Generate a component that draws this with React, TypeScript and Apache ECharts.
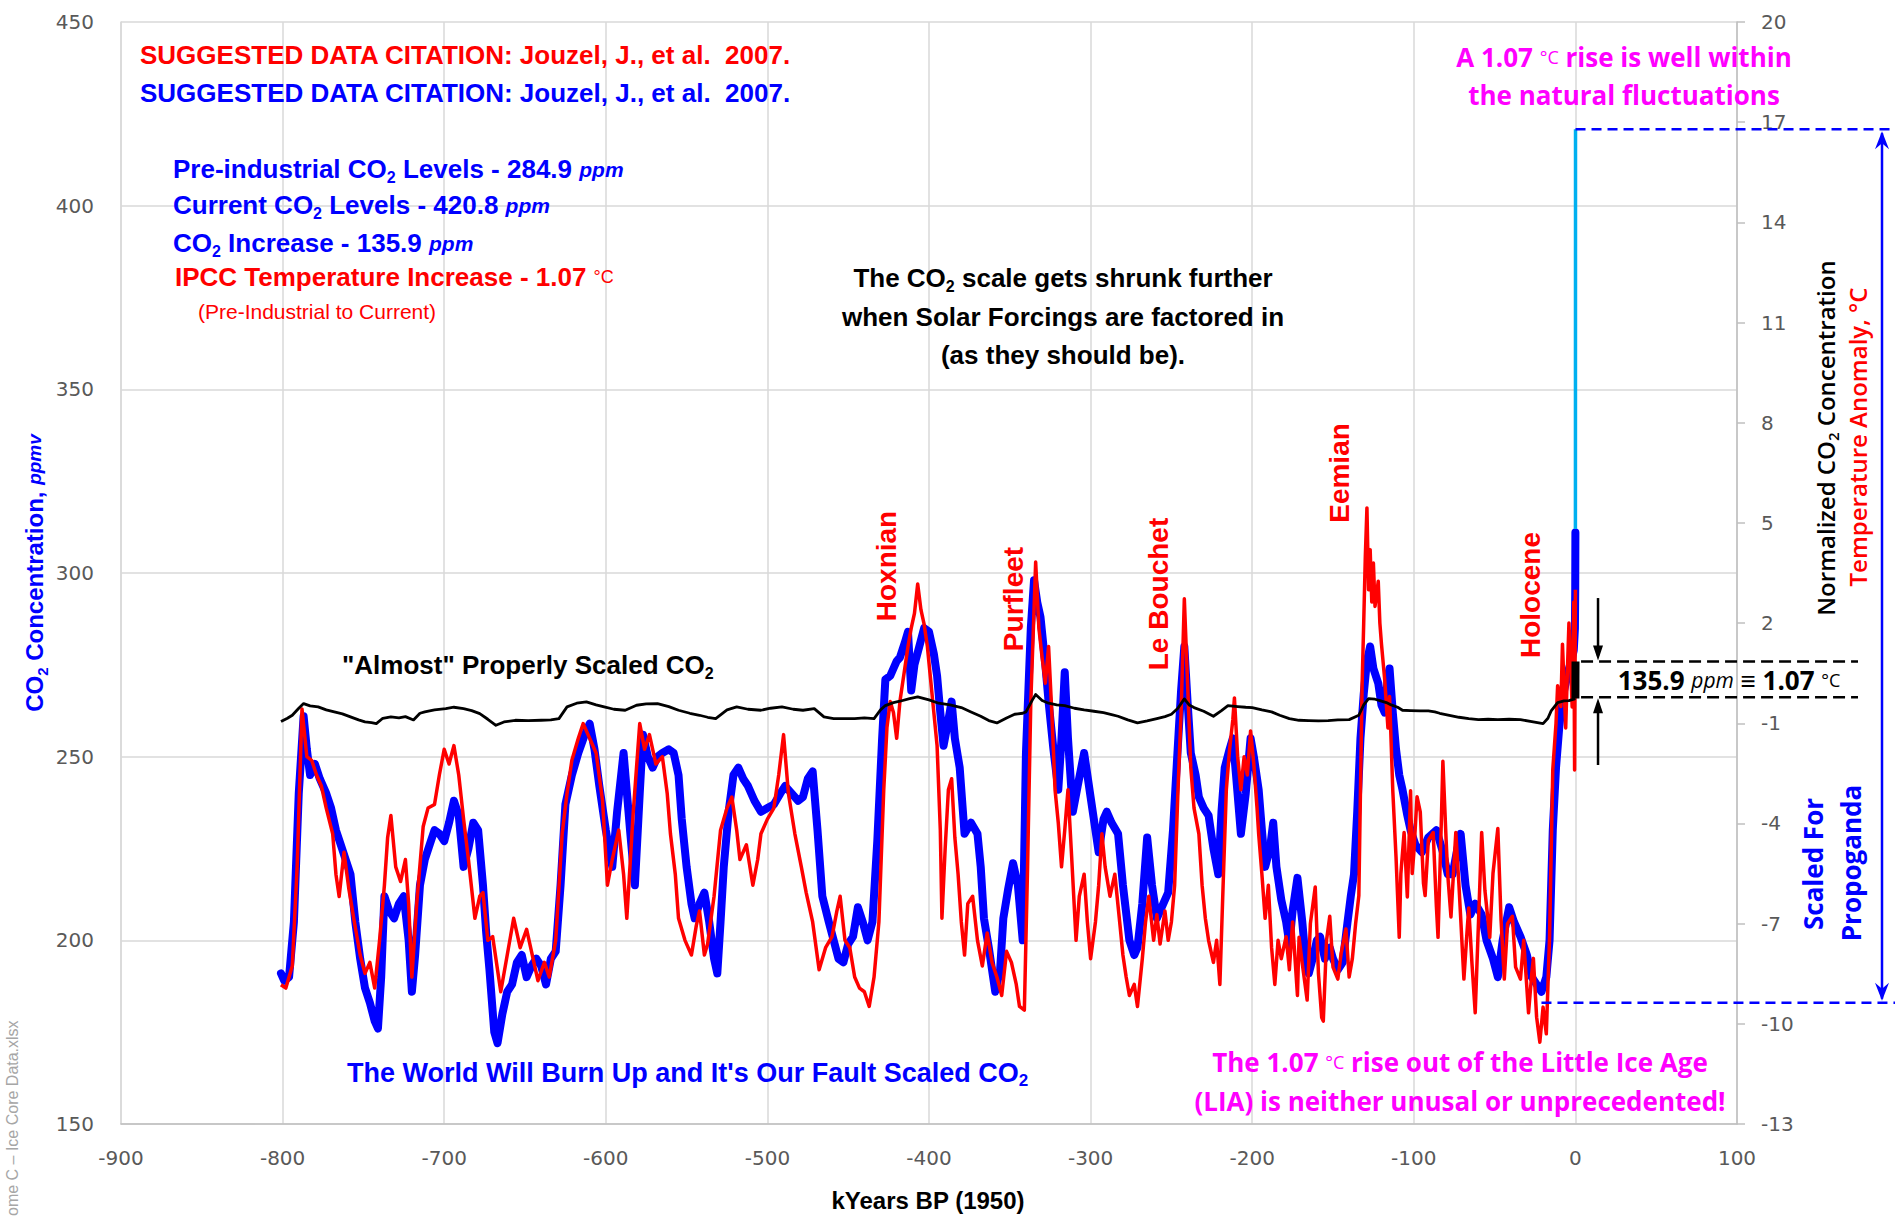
import React, { useEffect, useRef } from 'react';
import * as echarts from 'echarts';

// ---- Data (kyr BP relative to 1950, values) ----
const co2Data: [number, number][] = [
[-801,191],[-799,189],[-796,190],[-793,205],[-790,240],[-787,261],[-785,252],[-783,245],[-780,248],[-777,244],[-773,240],[-770,236],[-767,230],[-764,226],[-761,222],[-758,218],[-755,205],[-752,195],[-749,187],[-746,183],[-743,178],[-741,176],[-739,190],[-737,212],[-734,208],[-731,206],[-728,210],[-725,212],[-722,200],[-720,186],[-718,196],[-715,215],[-712,222],[-709,226],[-706,230],[-703,229],[-700,227],[-697,232],[-694,238],[-691,234],[-688,220],[-685,225],[-682,232],[-679,230],[-676,215],[-674,202],[-672,192],[-669,175],[-667,172],[-664,180],[-661,186],[-658,188],[-655,194],[-652,196],[-649,190],[-646,193],[-643,195],[-640,193],[-637,188],[-634,195],[-631,197],[-628,215],[-625,237],[-621,245],[-617,251],[-613,256],[-610,259],[-607,252],[-604,242],[-600,230],[-596,220],[-593,235],[-589,251],[-585,230],[-582,215],[-579,240],[-577,256],[-574,250],[-571,247],[-568,250],[-565,251],[-561,252],[-558,251],[-555,245],[-553,233],[-550,220],[-547,210],[-545,206],[-542,210],[-539,213],[-536,205],[-533,195],[-531,191],[-529,205],[-527,220],[-524,235],[-521,245],[-518,247],[-515,244],[-512,242],[-508,238],[-504,235],[-500,236],[-496,237],[-492,240],[-489,242],[-485,240],[-481,238],[-478,239],[-475,244],[-472,246],[-469,230],[-466,212],[-462,205],[-459,200],[-456,195],[-453,194],[-450,199],[-447,201],[-444,209],[-441,205],[-438,200],[-435,205],[-432,227],[-429,255],[-427,271],[-424,272],[-422,274],[-420,276],[-418,277],[-415,281],[-413,284],[-411,268],[-409,275],[-406,280],[-403,285],[-400,284],[-397,278],[-395,272],[-393,262],[-391,253],[-388,260],[-386,265],[-384,255],[-381,247],[-378,229],[-374,232],[-370,229],[-368,220],[-366,206],[-363,198],[-359,186],[-356,192],[-354,206],[-351,214],[-348,221],[-345,215],[-342,200],[-340,251],[-337,285],[-335,298],[-333,292],[-331,288],[-328,275],[-326,265],[-323,252],[-320,241],[-318,255],[-316,273],[-314,255],[-311,235],[-308,242],[-304,251],[-302,245],[-300,239],[-297,230],[-295,224],[-292,233],[-290,235],[-287,232],[-283,229],[-280,215],[-276,200],[-273,196],[-271,198],[-268,210],[-265,228],[-262,215],[-259,206],[-255,210],[-252,213],[-249,230],[-246,253],[-244,268],[-242,280],[-240,265],[-238,251],[-235,245],[-233,239],[-230,236],[-227,234],[-224,225],[-221,218],[-219,235],[-217,247],[-214,252],[-212,255],[-210,245],[-207,229],[-204,240],[-201,255],[-199,250],[-196,241],[-194,230],[-192,220],[-189,225],[-187,232],[-185,220],[-182,211],[-179,205],[-177,199],[-175,208],[-172,217],[-169,205],[-167,195],[-165,191],[-162,196],[-160,200],[-158,201],[-155,195],[-152,198],[-150,195],[-147,192],[-144,194],[-141,205],[-139,212],[-137,218],[-135,235],[-133,255],[-131,267],[-129,276],[-127,280],[-125,274],[-122,270],[-120,264],[-118,262],[-116,272],[-115,274],[-113,262],[-111,252],[-109,245],[-107,241],[-104,234],[-102,230],[-99,226],[-95,224],[-91,228],[-86,230],[-82,224],[-79,218],[-76,218],[-73,225],[-71,229],[-68,215],[-65,207],[-62,210],[-58,207],[-55,200],[-51,195],[-48,190],[-45,200],[-41,209],[-38,205],[-34,201],[-30,196],[-27,190],[-24,188],[-21,186],[-18,190],[-16,200],[-14,230],[-12,247],[-10,258],[-8,266],[-6,270],[-4,274],[-2,277],[-1,279],[-0.3,284.9],[-0.1,296],[0,311]
];

const modernCo2Data: [number, number][] = [
[0.001,312],[0.008,315],[0.02,325],[0.03,338],[0.04,354],[0.05,369],[0.06,389],[0.07,414],[0.073,420.8]
];

const tempData: [number, number][] = [
[-801,-8.83],[-798,-8.93],[-794,-8.27],[-791,-5.3],[-788,-0.57],[-785,-2.0],[-782,-2.11],[-779,-2.55],[-776,-2.88],[-773,-3.54],[-769,-4.31],[-767,-5.52],[-765,-6.19],[-762,-4.86],[-759,-5.96],[-756,-6.84],[-752,-7.94],[-749,-8.49],[-746,-8.16],[-743,-8.93],[-740,-7.5],[-737,-5.85],[-735,-4.42],[-733,-3.76],[-730,-5.3],[-727,-5.74],[-724,-5.08],[-722,-6.4],[-720,-8.6],[-717,-6.4],[-713,-4.09],[-710,-3.54],[-706,-3.43],[-703,-2.55],[-700,-1.78],[-697,-2.22],[-694,-1.67],[-691,-2.55],[-688,-3.87],[-685,-5.08],[-681,-6.84],[-678,-6.18],[-676,-6.07],[-673,-7.5],[-670,-7.39],[-667,-8.38],[-665,-9.04],[-661,-7.94],[-657,-6.84],[-653,-7.72],[-649,-7.17],[-645,-8.05],[-642,-8.71],[-638,-8.16],[-635,-8.6],[-631,-7.5],[-627,-4.31],[-624,-3.1],[-621,-2.11],[-617,-1.45],[-614,-1.01],[-610,-1.45],[-606,-1.89],[-602,-3.32],[-599,-5.85],[-596,-5.08],[-592,-4.2],[-589,-5.52],[-587,-6.84],[-583,-3.65],[-579,-1.01],[-576,-1.78],[-573,-1.34],[-569,-2.22],[-565,-2.0],[-562,-3.1],[-560,-4.31],[-557,-5.52],[-555,-6.84],[-551,-7.5],[-547,-7.94],[-544,-7.06],[-542,-6.62],[-539,-7.94],[-537,-7.61],[-533,-6.18],[-529,-4.2],[-525,-3.54],[-522,-3.21],[-519,-4.2],[-517,-5.08],[-513,-4.64],[-509,-5.85],[-506,-5.08],[-504,-4.31],[-500,-3.87],[-496,-3.54],[-493,-2.55],[-490,-1.34],[-487,-3.1],[-483,-4.31],[-479,-5.3],[-476,-6.07],[-472,-6.95],[-468,-8.38],[-464,-7.72],[-460,-7.39],[-457,-6.62],[-455,-6.18],[-452,-7.5],[-449,-7.72],[-446,-8.6],[-443,-8.93],[-440,-9.04],[-437,-9.48],[-434,-8.6],[-431,-6.95],[-428,-2.99],[-426,-1.12],[-424,-0.35],[-422,-0.68],[-420,-1.45],[-418,-0.35],[-415,0.64],[-413,1.3],[-411,1.85],[-409,2.29],[-407,3.17],[-405,2.4],[-403,1.96],[-401,1.3],[-399,0.31],[-397,-0.68],[-395,-1.67],[-393,-4.2],[-392,-6.84],[-390,-4.75],[-388,-2.99],[-386,-2.66],[-384,-4.42],[-382,-5.52],[-380,-6.95],[-378,-7.94],[-376,-6.4],[-373,-6.18],[-370,-7.5],[-367,-8.27],[-364,-7.28],[-361,-8.16],[-358,-8.6],[-355,-9.15],[-352,-7.83],[-349,-8.16],[-346,-8.82],[-344,-9.48],[-341,-9.59],[-339,-5.3],[-337,-0.35],[-335,2.4],[-334,3.83],[-332,1.85],[-330,0.97],[-328,0.2],[-326,1.3],[-324,-0.68],[-322,-2.99],[-320,-3.98],[-318,-5.3],[-316,-4.2],[-314,-2.99],[-312,-4.75],[-309,-7.5],[-307,-6.18],[-304,-5.52],[-302,-6.95],[-300,-8.05],[-297,-6.95],[-295,-5.85],[-293,-4.31],[-291,-5.3],[-288,-6.18],[-285,-5.52],[-282,-6.95],[-280,-7.94],[-278,-8.6],[-276,-9.15],[-273,-8.82],[-271,-9.48],[-268,-8.05],[-266,-6.95],[-264,-6.18],[-261,-7.5],[-259,-6.73],[-257,-7.61],[-254,-6.62],[-252,-7.5],[-250,-6.95],[-248,-5.85],[-246,-3.1],[-244,-0.68],[-242,2.73],[-240,0.2],[-238,-2.33],[-236,-3.54],[-233,-4.31],[-231,-5.85],[-229,-6.84],[-227,-7.5],[-224,-8.16],[-222,-7.5],[-220,-8.82],[-218,-5.85],[-216,-2.99],[-214,-1.78],[-212,-0.9],[-211,-0.24],[-209,-2.0],[-207,-2.99],[-205,-2.0],[-203,-2.55],[-201,-1.23],[-199,-2.22],[-197,-3.54],[-196,-4.31],[-194,-5.52],[-192,-6.84],[-190,-5.85],[-188,-7.72],[-186,-8.82],[-184,-7.5],[-182,-8.05],[-179,-7.39],[-177,-8.38],[-175,-6.95],[-172,-9.15],[-171,-7.41],[-169,-8.2],[-166,-9.29],[-164,-7.0],[-161,-5.9],[-159,-8.5],[-157,-9.81],[-156,-9.92],[-154,-7.5],[-152,-6.78],[-150,-8.3],[-147,-8.66],[-145,-7.9],[-142,-7.16],[-140,-8.6],[-138,-8.04],[-136,-7.0],[-134,-6.16],[-133,-3.0],[-132,0.12],[-131,2.0],[-130,4.0],[-129,5.45],[-128,3.0],[-127,4.2],[-126,2.63],[-125,3.8],[-124,2.5],[-122,3.25],[-121,2.0],[-120,1.37],[-118,0.3],[-116,-1.14],[-115,-0.2],[-113,-3.02],[-111,-5.0],[-109,-7.41],[-108,-5.5],[-106,-4.27],[-104,-6.2],[-102,-3.02],[-101,-5.5],[-100,-4.9],[-98,-3.2],[-96,-3.65],[-94,-5.8],[-93,-6.16],[-91,-4.5],[-88,-4.27],[-86,-6.5],[-85,-7.41],[-83,-4.0],[-82,-2.14],[-80,-4.5],[-79,-5.53],[-77,-6.8],[-74,-4.27],[-72,-5.9],[-69,-8.66],[-67,-7.2],[-66,-6.53],[-64,-8.2],[-62,-9.67],[-60,-7.0],[-58,-4.27],[-56,-6.0],[-53,-7.41],[-51,-5.5],[-48,-4.15],[-46,-6.9],[-44,-8.66],[-42,-7.0],[-39,-6.78],[-37,-8.3],[-34,-8.66],[-32,-7.5],[-29,-9.67],[-27,-8.5],[-26,-8.04],[-24,-9.8],[-22,-10.55],[-20,-9.5],[-19,-9.92],[-18,-10.3],[-16,-7.41],[-14,-2.39],[-12,-1.0],[-11,0.12],[-9,-0.5],[-8,1.37],[-6,-1.14],[-5,0.5],[-4,2.0],[-3,0.8],[-2,-0.51],[-1,2.63],[-0.5,-2.4],[0,3.0]
];

const normCo2Data: [number, number][] = [
[-801,-0.95],[-797,-0.85],[-794,-0.76],[-790,-0.55],[-787,-0.41],[-783,-0.48],[-778,-0.51],[-773,-0.6],[-768,-0.66],[-763,-0.72],[-758,-0.81],[-753,-0.9],[-749,-0.96],[-745,-0.98],[-742,-1.01],[-738,-0.85],[-733,-0.81],[-728,-0.84],[-724,-0.8],[-719,-0.9],[-715,-0.7],[-712,-0.66],[-706,-0.6],[-699,-0.56],[-694,-0.52],[-688,-0.56],[-683,-0.62],[-678,-0.71],[-673,-0.88],[-668,-1.06],[-663,-0.96],[-656,-0.91],[-648,-0.92],[-640,-0.91],[-634,-0.9],[-629,-0.86],[-624,-0.51],[-618,-0.4],[-612,-0.36],[-606,-0.45],[-601,-0.51],[-595,-0.58],[-588,-0.61],[-581,-0.46],[-575,-0.42],[-568,-0.41],[-561,-0.5],[-555,-0.61],[-548,-0.7],[-542,-0.76],[-537,-0.82],[-532,-0.86],[-525,-0.6],[-519,-0.51],[-512,-0.58],[-504,-0.61],[-498,-0.55],[-491,-0.51],[-484,-0.58],[-478,-0.61],[-471,-0.56],[-465,-0.81],[-459,-0.86],[-453,-0.86],[-446,-0.86],[-440,-0.84],[-434,-0.86],[-430,-0.6],[-427,-0.47],[-422,-0.38],[-418,-0.34],[-412,-0.26],[-407,-0.21],[-400,-0.3],[-394,-0.4],[-387,-0.45],[-380,-0.53],[-374,-0.66],[-368,-0.79],[-363,-0.92],[-358,-0.99],[-352,-0.84],[-347,-0.73],[-342,-0.7],[-340,-0.66],[-336,-0.3],[-334,-0.14],[-330,-0.32],[-326,-0.4],[-321,-0.45],[-316,-0.47],[-310,-0.55],[-304,-0.6],[-298,-0.64],[-292,-0.68],[-287,-0.74],[-283,-0.79],[-277,-0.9],[-271,-0.99],[-265,-0.93],[-259,-0.86],[-254,-0.8],[-250,-0.73],[-246,-0.55],[-242,-0.27],[-239,-0.45],[-236,-0.53],[-230,-0.64],[-224,-0.79],[-219,-0.62],[-215,-0.47],[-209,-0.5],[-204,-0.52],[-200,-0.53],[-194,-0.6],[-188,-0.66],[-183,-0.76],[-177,-0.86],[-171,-0.91],[-165,-0.92],[-159,-0.93],[-153,-0.92],[-147,-0.9],[-140,-0.89],[-134,-0.76],[-131,-0.45],[-128,-0.26],[-124,-0.28],[-121,-0.32],[-117,-0.38],[-114,-0.45],[-110,-0.52],[-107,-0.61],[-102,-0.62],[-96,-0.63],[-91,-0.63],[-87,-0.66],[-84,-0.7],[-78,-0.76],[-72,-0.82],[-66,-0.86],[-60,-0.89],[-54,-0.88],[-48,-0.89],[-41,-0.88],[-34,-0.89],[-27,-0.95],[-20,-1.01],[-17,-0.85],[-15,-0.63],[-11,-0.38],[-7,-0.33],[-4,-0.32],[0,-0.26]
];

const modernNormData: [number, number][] = [
[0,-0.26],[0.02,0.05],[0.04,0.35],[0.06,0.6],[0.073,0.85]
];

const rightTicks = [-13, -10, -7, -4, -1, 2, 5, 8, 11, 14, 17, 20];
const currentPpm = 420.8;
const lgmPpm = 183;
const normLow = -0.22;
const normHigh = 0.85;

const BLUE = '#0000ff';
const RED = '#ff0000';
const MAG = '#ff00ff';
const CAL = '"Liberation Sans", Arial, sans-serif';
const SEG = '"Open Sans", "Noto Sans", sans-serif';
const AX = '"DejaVu Sans", sans-serif';

function txt(x: number, y: number, text: string, fill: string, size: number, opts: any = {}) {
  return {
    type: 'text', x, y, rotation: opts.rotation || 0, z: 100,
    style: {
      text, fill, fontSize: size, fontWeight: opts.weight || 'bold', fontFamily: opts.family || CAL,
      fontStyle: opts.style || 'normal',
      textAlign: opts.align || 'left', textVerticalAlign: 'middle', rich: opts.rich,
    },
  };
}

function richSet(fill: string, size: number, family: string) {
  return {
    b: { fill, fontSize: size, fontWeight: 'bold', fontFamily: family, lineHeight: 32 },
    s: { fill, fontSize: Math.round(size * 0.62), fontWeight: 'bold', fontFamily: family, lineHeight: 12, verticalAlign: 'bottom' },
    i: { fill, fontSize: Math.round(size * 0.8), fontWeight: 'bold', fontStyle: 'italic', fontFamily: family, lineHeight: 32 },
    d: { fill, fontSize: Math.round(size * 0.7), fontWeight: 'normal', fontFamily: family, lineHeight: 32 },
    n: { fill, fontSize: Math.round(size * 0.8), fontWeight: 'normal', fontStyle: 'italic', fontFamily: family, lineHeight: 32 },
  };
}

export default function App() {
  const ref = useRef<HTMLDivElement>(null);
  useEffect(() => {
    if (!ref.current) return;
    const chart = echarts.init(ref.current, null, { renderer: 'svg' });
    const axisLabel = { fontSize: 20, fontFamily: AX, color: '#595959' };
    chart.setOption({
      animation: false,
      grid: { left: 121, right: 158, top: 22, bottom: 94 },
      xAxis: {
        type: 'value', min: -900, max: 100, interval: 100,
        axisLine: { show: true, onZero: false, lineStyle: { color: '#bfbfbf', width: 1.5 } },
        axisTick: { show: false },
        axisLabel: { ...axisLabel, margin: 24 },
        splitLine: { show: true, lineStyle: { color: '#d9d9d9', width: 1.5 } },
      },
      yAxis: [
        {
          type: 'value', min: 150, max: 450, interval: 50, position: 'left',
          axisLine: { show: true, onZero: false, lineStyle: { color: '#d9d9d9', width: 1.5 } },
          axisTick: { show: false },
          axisLabel: { ...axisLabel, margin: 27 },
          splitLine: { show: true, lineStyle: { color: '#d9d9d9', width: 1.5 } },
        },
        {
          type: 'value', min: -13, max: 20, position: 'right',
          axisLine: { show: true, onZero: false, lineStyle: { color: '#bfbfbf', width: 1.5 } },
          axisTick: { show: true, length: 8, lineStyle: { color: '#bfbfbf', width: 1.5 }, customValues: rightTicks },
          axisLabel: { ...axisLabel, margin: 24, customValues: rightTicks },
          splitLine: { show: false },
        },
      ],
      series: [
        { type: 'line', name: 'CO2', yAxisIndex: 0, data: co2Data, showSymbol: false, silent: true, z: 2,
          lineStyle: { color: BLUE, width: 8, join: 'round', cap: 'round' } },
        { type: 'line', name: 'Modern CO2', yAxisIndex: 0, data: modernCo2Data, showSymbol: false, silent: true, z: 3,
          lineStyle: { color: '#00b0f0', width: 3.5 } },
        { type: 'line', name: 'Temperature', yAxisIndex: 1, data: tempData, showSymbol: false, silent: true, z: 4,
          lineStyle: { color: RED, width: 3.5, join: 'round' } },
        { type: 'line', name: 'Normalized CO2', yAxisIndex: 1, data: normCo2Data, showSymbol: false, silent: true, z: 5,
          lineStyle: { color: '#000000', width: 2.8, join: 'round' } },
        { type: 'line', name: 'Modern Normalized CO2', yAxisIndex: 1, data: modernNormData, showSymbol: false, silent: true, z: 5,
          lineStyle: { color: '#000000', width: 8 } },
      ],
    });

    const p0 = (x: number, y: number) => chart.convertToPixel({ xAxisIndex: 0, yAxisIndex: 0 }, [x, y]) as number[];
    const p1 = (x: number, y: number) => chart.convertToPixel({ xAxisIndex: 0, yAxisIndex: 1 }, [x, y]) as number[];
    const topP = p0(0.073, currentPpm);
    const botP = p0(-21, lgmPpm);
    const hiP = p1(3.5, normHigh);
    const loP = p1(3.5, normLow);
    const arrX = p1(14, 0)[0];
    const downStart = p1(14, 2.75)[1];
    const upStart = p1(14, -2.25)[1];
    const ax = 1882;

    const blueDash = { stroke: BLUE, lineWidth: 2.5, lineDash: [10, 6] };
    const blackDash = { stroke: '#000', lineWidth: 2.5, lineDash: [12, 6] };

    const rB = richSet(BLUE, 26, CAL);
    const rR = richSet(RED, 26, CAL);
    const rK = richSet('#000', 26, CAL);
    const rM = richSet(MAG, 26, SEG);
    const rKS = richSet('#000', 26, SEG);

    const graphic: any[] = [
      { type: 'line', z: 90, shape: { x1: topP[0], y1: topP[1], x2: 1895, y2: topP[1] }, style: blueDash },
      { type: 'line', z: 90, shape: { x1: botP[0], y1: botP[1], x2: 1895, y2: botP[1] }, style: blueDash },
      { type: 'line', z: 90, shape: { x1: ax, y1: topP[1] + 4, x2: ax, y2: botP[1] - 4 }, style: { stroke: BLUE, lineWidth: 2.5 } },
      { type: 'polygon', z: 90, shape: { points: [[ax, topP[1] + 2], [ax - 7, topP[1] + 20], [ax, topP[1] + 14], [ax + 7, topP[1] + 20]] }, style: { fill: BLUE } },
      { type: 'polygon', z: 90, shape: { points: [[ax, botP[1] - 2], [ax - 7, botP[1] - 20], [ax, botP[1] - 14], [ax + 7, botP[1] - 20]] }, style: { fill: BLUE } },
      { type: 'line', z: 90, shape: { x1: hiP[0], y1: hiP[1], x2: 1858, y2: hiP[1] }, style: blackDash },
      { type: 'line', z: 90, shape: { x1: loP[0], y1: loP[1], x2: 1858, y2: loP[1] }, style: blackDash },
      { type: 'line', z: 90, shape: { x1: arrX, y1: downStart, x2: arrX, y2: hiP[1] - 6 }, style: { stroke: '#000', lineWidth: 2.5 } },
      { type: 'polygon', z: 90, shape: { points: [[arrX, hiP[1] - 1], [arrX - 5, hiP[1] - 16], [arrX + 5, hiP[1] - 16]] }, style: { fill: '#000' } },
      { type: 'line', z: 90, shape: { x1: arrX, y1: upStart, x2: arrX, y2: loP[1] + 6 }, style: { stroke: '#000', lineWidth: 2.5 } },
      { type: 'polygon', z: 90, shape: { points: [[arrX, loP[1] + 1], [arrX - 5, loP[1] + 16], [arrX + 5, loP[1] + 16]] }, style: { fill: '#000' } },

      txt(140, 55, 'SUGGESTED DATA CITATION: Jouzel, J., et al.  2007.', RED, 26),
      txt(140, 93, 'SUGGESTED DATA CITATION: Jouzel, J., et al.  2007.', BLUE, 26),
      txt(173, 169, '{b|Pre-industrial CO}{s|2}{b| Levels - 284.9 }{i|ppm}', BLUE, 26, { rich: rB }),
      txt(173, 205, '{b|Current CO}{s|2}{b| Levels - 420.8 }{i|ppm}', BLUE, 26, { rich: rB }),
      txt(173, 243, '{b|CO}{s|2}{b| Increase - 135.9 }{i|ppm}', BLUE, 26, { rich: rB }),
      txt(175, 277, '{b|IPCC Temperature Increase - 1.07 }{d|°C}', RED, 26, { rich: rR }),
      txt(198, 311, '(Pre-Industrial to Current)', RED, 21, { weight: 'normal' }),

      txt(1063, 278, '{b|The CO}{s|2}{b| scale gets shrunk further}', '#000', 26, { rich: rK, align: 'center' }),
      txt(1063, 317, 'when Solar Forcings are factored in', '#000', 26, { align: 'center' }),
      txt(1063, 355, '(as they should be).', '#000', 26, { align: 'center' }),

      txt(1624, 57, '{b|A 1.07 }{d|°C}{b| rise is well within}', MAG, 26, { rich: rM, align: 'center', family: SEG }),
      txt(1624, 95, 'the natural fluctuations', MAG, 26, { align: 'center', family: SEG }),
      txt(1460, 1062, '{b|The 1.07 }{d|°C}{b| rise out of the Little Ice Age}', MAG, 26, { rich: rM, align: 'center', family: SEG }),
      txt(1460, 1101, '(LIA) is neither unusal or unprecedented!', MAG, 26, { align: 'center', family: SEG }),

      txt(342, 665, '{b|"Almost" Properly Scaled CO}{s|2}', '#000', 26, { rich: rK }),
      txt(347, 1073, '{b|The World Will Burn Up and It\'s Our Fault Scaled CO}{s|2}', BLUE, 27, { rich: richSet(BLUE, 27, CAL) }),

      txt(886, 566, 'Hoxnian', RED, 28, { rotation: Math.PI / 2, align: 'center' }),
      txt(1013, 599, 'Purfleet', RED, 28, { rotation: Math.PI / 2, align: 'center' }),
      txt(1158, 594, 'Le Bouchet', RED, 28, { rotation: Math.PI / 2, align: 'center' }),
      txt(1339, 473, 'Eemian', RED, 28, { rotation: Math.PI / 2, align: 'center' }),
      txt(1530, 595, 'Holocene', RED, 28, { rotation: Math.PI / 2, align: 'center' }),

      txt(1729, 680, '{b|135.9 }{n|ppm}{b| ≡ 1.07 }{d|°C}', '#000', 26, { rich: rKS, align: 'center', family: SEG }),

      txt(34, 573, '{b|CO}{s|2}{b| Concentration, }{i|ppmv}', BLUE, 24, { rich: richSet(BLUE, 24, CAL), rotation: Math.PI / 2, align: 'center' }),
      txt(1825, 438, '{b|Normalized CO}{s|2}{b| Concentration}', '#000', 24, {
        rich: {
          b: { fill: '#000', fontSize: 24, fontWeight: 600, fontFamily: SEG, lineHeight: 30 },
          s: { fill: '#000', fontSize: 15, fontWeight: 600, fontFamily: SEG, lineHeight: 12, verticalAlign: 'bottom' },
        }, rotation: Math.PI / 2, align: 'center', family: SEG }),
      txt(1857, 437, 'Temperature Anomaly, °C', RED, 24, { rotation: Math.PI / 2, align: 'center', family: SEG, weight: 600 }),
      txt(1813, 864, 'Scaled For', BLUE, 26, { rotation: Math.PI / 2, align: 'center', family: SEG }),
      txt(1851, 863, 'Propoganda', BLUE, 26, { rotation: Math.PI / 2, align: 'center', family: SEG }),
      txt(928, 1200, 'kYears BP (1950)', '#000', 24, { align: 'center' }),
      txt(12, 1216, 'ome C – Ice Core Data.xlsx', '#a6a6a6', 16, { rotation: Math.PI / 2, weight: 'normal' }),
    ];
    chart.setOption({ graphic });
    return () => chart.dispose();
  }, []);
  return <div ref={ref} style={{ position: 'absolute', left: 0, top: 0, width: 1895, height: 1218, background: '#fff' }} />;
}
